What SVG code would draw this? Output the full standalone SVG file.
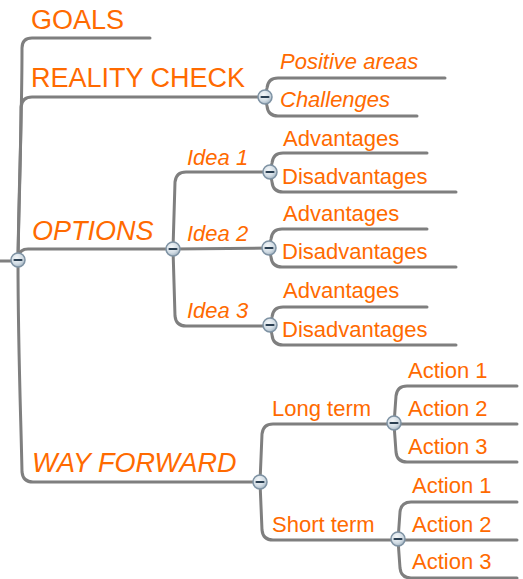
<svg xmlns="http://www.w3.org/2000/svg" width="523" height="579" viewBox="0 0 523 579">
<style>
.ln{fill:none;stroke:#7f7f7f;stroke-width:3;stroke-linecap:round;stroke-linejoin:round}
.t1{font-family:"Liberation Sans",Arial,sans-serif;font-size:27px;fill:#ff6a00}
.t2{font-family:"Liberation Sans",Arial,sans-serif;font-size:22px;fill:#ff6a00}
.it{font-style:italic}
.btn circle{fill:url(#bg);stroke:#7e92a3;stroke-width:1.5}
.btn line{stroke:#2a3f52;stroke-width:2.2;stroke-linecap:round}
</style>
<defs>
<radialGradient id="bg" cx="0.4" cy="0.35" r="0.7">
<stop offset="0" stop-color="#f4f7f9"/>
<stop offset="0.6" stop-color="#d3dde5"/>
<stop offset="1" stop-color="#9fb1bf"/>
</radialGradient>
<g id="b" class="btn"><circle cx="0" cy="0" r="7"/><line x1="-3.5" y1="0" x2="3.5" y2="0"/></g>
</defs>
<g id="connectors">
<path class="ln" d="M0 261 L12 261"/>
<path class="ln" d="M18 260 C19 180 22 120 22 48 Q22 38 32 38 L150 38"/>
<path class="ln" d="M18 260 C19 200 21 150 21 107 Q22 97 32 97 L265 97"/>
<path class="ln" d="M18 260 Q18 249 28 249 L173 249"/>
<path class="ln" d="M18 260 C18 350 21 420 22 472 Q23 482 33 482 L260 482"/>
<path class="ln" d="M265 97 L267 88 Q268 78 278 78 L445 78"/>
<path class="ln" d="M265 97 L267 106 Q268 116 278 116 L417 116"/>
<path class="ln" d="M173 249 L175 182 Q176 172 186 172 L270 172"/>
<path class="ln" d="M173 249 L269 248"/>
<path class="ln" d="M173 249 L175 316 Q176 326 186 326 L270 326"/>
<path class="ln" d="M270 172 L272 163 Q273 153 283 153 L427 153"/>
<path class="ln" d="M270 172 L272 182 Q273 192 283 192 L456 192"/>
<path class="ln" d="M269 248 L271 239 Q272 229 282 229 L427 229"/>
<path class="ln" d="M269 248 L271 257 Q272 267 282 267 L456 267"/>
<path class="ln" d="M270 325 L272 317 Q273 307 283 307 L427 307"/>
<path class="ln" d="M270 325 L272 335 Q273 345 283 345 L456 345"/>
<path class="ln" d="M260 482 L262 434 Q263 424 273 424 L394 424"/>
<path class="ln" d="M260 482 L262 530 Q263 540 273 540 L398 540"/>
<path class="ln" d="M394 424 L396 396 Q397 386 407 386 L517 386"/>
<path class="ln" d="M394 424 L517 424"/>
<path class="ln" d="M394 424 L396 452 Q397 462 407 462 L517 462"/>
<path class="ln" d="M398 540 L400 512 Q401 502 411 502 L517 502"/>
<path class="ln" d="M398 540 L517 540"/>
<path class="ln" d="M398 540 L400 568 Q401 578 411 578 L517 578"/>
</g>
<g id="buttons">
<use href="#b" x="18" y="260"/>
<use href="#b" x="265" y="97"/>
<use href="#b" x="173" y="249"/>
<use href="#b" x="270" y="172"/>
<use href="#b" x="269" y="248"/>
<use href="#b" x="270" y="325"/>
<use href="#b" x="260" y="482"/>
<use href="#b" x="394" y="423"/>
<use href="#b" x="398" y="539"/>
</g>
<g id="n-goals"><text class="t1" x="31" y="29">GOALS</text></g>
<g id="n-reality"><text class="t1" x="31" y="87">REALITY CHECK</text></g>
<g id="n-options"><text class="t1 it" x="32" y="240">OPTIONS</text></g>
<g id="n-way"><text class="t1 it" x="32" y="472">WAY FORWARD</text></g>
<g id="n-positive"><text class="t2 it" x="280" y="69">Positive areas</text></g>
<g id="n-challenges"><text class="t2 it" x="280" y="107">Challenges</text></g>
<g id="n-idea1"><text class="t2 it" x="187" y="165">Idea 1</text></g>
<g id="n-idea2"><text class="t2 it" x="187" y="241">Idea 2</text></g>
<g id="n-idea3"><text class="t2 it" x="187" y="318">Idea 3</text></g>
<g id="n-adv1"><text class="t2" x="283" y="146">Advantages</text></g>
<g id="n-dis1"><text class="t2" x="282" y="184">Disadvantages</text></g>
<g id="n-adv2"><text class="t2" x="283" y="221">Advantages</text></g>
<g id="n-dis2"><text class="t2" x="282" y="259">Disadvantages</text></g>
<g id="n-adv3"><text class="t2" x="283" y="298">Advantages</text></g>
<g id="n-dis3"><text class="t2" x="282" y="337">Disadvantages</text></g>
<g id="n-long"><text class="t2" x="272" y="416">Long term</text></g>
<g id="n-short"><text class="t2" x="272" y="532">Short term</text></g>
<g id="n-la1"><text class="t2" x="408" y="378">Action 1</text></g>
<g id="n-la2"><text class="t2" x="408" y="416">Action 2</text></g>
<g id="n-la3"><text class="t2" x="408" y="454">Action 3</text></g>
<g id="n-sa1"><text class="t2" x="412" y="493">Action 1</text></g>
<g id="n-sa2"><text class="t2" x="412" y="532">Action 2</text></g>
<g id="n-sa3"><text class="t2" x="412" y="569">Action 3</text></g>
</svg>
